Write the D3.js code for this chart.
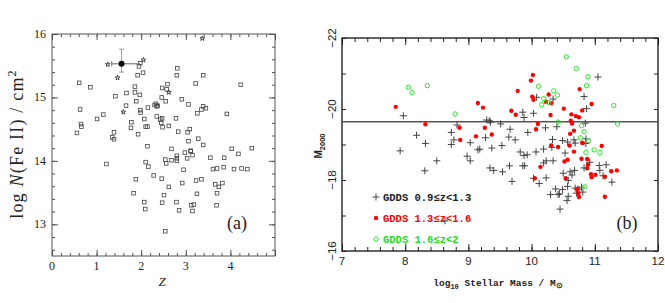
<!DOCTYPE html>
<html>
<head>
<meta charset="utf-8">
<script src="https://cdn.jsdelivr.net/npm/d3@7"></script>
<style>
  body { margin: 0; background: #fff; }
  svg { display: block; }
</style>
</head>
<body>
<svg id="fig" width="665" height="303"></svg>
<script>
// ---- panel (a): z vs log N(Fe II) ----
var squaresA = [
  [0.61,15.23],[0.86,15.16],[0.63,14.81],[0.65,14.58],[0.66,14.54],[0.56,14.44],[1.01,14.66],[1.15,14.73],
  [1.42,15.02],[1.39,14.45],[1.35,14.37],[1.39,14.34],[1.67,15.07],[1.66,14.87],[1.78,14.61],[1.77,14.52],
  [1.86,15.17],[1.86,15.08],[1.97,15.04],[1.89,14.94],[1.95,15.49],[1.92,15.35],[2.04,15.39],[1.98,15.54],
  [1.98,14.80],[1.99,14.76],[2.07,14.66],[2.10,14.54],[2.14,14.54],[1.93,14.42],[2.15,14.84],[2.14,14.23],
  [2.30,14.88],[2.33,14.90],[2.35,14.86],[2.37,14.87],[2.35,14.70],[2.43,14.65],[2.47,14.67],[2.45,14.60],
  [2.48,14.53],[2.47,15.15],[2.57,15.13],[2.59,15.21],[2.46,15.00],[2.55,14.94],[2.62,14.55],[2.78,14.67],
  [2.80,15.35],[2.81,15.46],[2.83,14.46],[2.91,14.97],[3.06,14.89],[3.09,14.50],[3.04,14.45],[3.06,14.31],
  [3.22,15.22],[3.39,15.35],[3.26,14.75],[3.35,14.81],[3.39,14.86],[3.45,14.83],[3.28,14.35],[3.39,14.25],
  [3.92,14.74],[4.23,15.20],[2.68,14.19],[3.11,14.16],[4.03,14.19],[4.48,14.20],[4.18,14.11],
  [1.22,13.95],[2.10,13.98],[2.16,13.91],[2.54,14.02],[2.56,13.96],[2.68,14.01],[2.80,14.08],[2.80,14.04],
  [2.80,14.00],[2.98,14.13],[3.03,14.04],[3.11,14.15],[3.15,14.09],[2.95,13.86],[3.55,14.05],[3.61,13.87],
  [3.70,13.88],[3.85,13.90],[3.86,14.05],[4.08,13.87],[4.25,13.88],[4.38,13.87],[1.88,13.71],[2.28,13.77],
  [2.46,13.72],[1.83,13.49],[2.62,13.59],[2.92,13.65],[3.23,13.69],[3.35,13.71],[3.25,13.48],[3.66,13.63],
  [3.74,13.59],[3.82,13.65],[3.70,13.49],[2.51,13.46],[2.07,13.35],[2.09,13.24],[2.47,13.34],[2.79,13.35],
  [2.85,13.22],[3.12,13.30],[3.18,13.31],[3.15,13.21],[3.69,13.30],[2.54,12.89]
];
var starsA = [[3.37,15.93],[1.25,15.52],[2.05,15.59],[1.47,15.31],[1.60,14.77],[2.62,15.08]];
var meanA = { z: 1.56, n: 15.53, zLo: 1.34, zHi: 1.97, nLo: 15.40, nHi: 15.76 };
var xTicksA = [0, 1, 2, 3, 4, 5];
var yTicksA = [13, 14, 15, 16];

// ---- panel (b): stellar mass vs M2000 ----
var blackB = [
  [7.97,-19.81],[8.18,-19.26],[8.32,-19.03],[8.82,-19.55],[8.73,-19.34],[8.77,-19.13],[8.73,-19.00],[9.03,-19.05],
  [9.29,-19.69],[9.33,-19.67],[9.35,-19.63],[9.51,-19.58],[9.27,-19.19],[9.66,-19.43],[9.64,-19.21],[9.74,-19.13],
  [9.94,-19.34],[9.86,-19.91],[9.88,-19.76],[10.03,-19.88],[10.08,-20.33],[10.34,-20.28],[10.83,-20.35],[11.05,-20.90],
  [10.87,-20.01],[10.85,-19.60],[10.22,-19.47],[10.40,-19.50],[10.33,-19.14],[10.49,-19.11],[10.57,-19.07],[10.67,-19.13],
  [10.69,-19.04],[10.86,-19.16],[10.86,-19.03],[7.92,-18.82],[8.31,-18.26],[8.50,-18.54],[8.98,-18.67],[9.03,-18.54],
  [9.15,-18.85],[9.18,-18.87],[9.37,-18.90],[9.34,-18.34],[9.40,-18.27],[9.54,-18.23],[8.63,-16.85],[9.53,-18.97],
  [9.82,-18.79],[9.88,-18.69],[9.93,-18.71],[9.65,-18.40],[9.69,-17.96],[9.86,-18.40],[9.89,-18.40],[10.07,-18.79],
  [10.19,-18.87],[10.32,-18.92],[10.53,-18.76],[10.19,-18.48],[10.23,-18.54],[10.34,-18.54],[10.03,-18.05],[10.12,-17.90],
  [10.23,-18.06],[10.50,-18.19],[10.61,-18.23],[10.64,-18.14],[10.68,-18.27],[10.58,-17.99],[10.57,-17.82],[10.92,-18.50],
  [10.83,-18.34],[10.69,-17.77],[10.73,-17.74],[10.79,-17.80],[10.81,-17.66],[10.71,-17.63],[10.30,-17.59],[10.38,-17.75],
  [10.42,-17.59],[10.44,-17.61],[10.49,-17.73],[10.58,-17.54],[10.56,-17.42],[10.45,-17.18],[11.07,-18.41],[11.08,-18.27],
  [11.13,-18.12],[11.18,-18.43],[11.27,-17.94]
];
var redB = [
  [7.85,-20.06],[9.15,-20.17],[9.23,-20.04],[8.32,-19.57],[8.86,-19.47],[9.26,-19.47],[9.37,-19.28],[9.12,-19.23],
  [8.87,-19.13],[10.02,-20.96],[9.99,-20.80],[9.78,-20.51],[10.01,-20.35],[10.03,-20.26],[10.27,-20.41],[10.23,-20.20],
  [10.31,-20.16],[10.76,-20.56],[10.95,-20.14],[10.51,-20.01],[10.80,-19.96],[9.68,-19.95],[9.75,-19.84],[10.30,-19.83],
  [10.63,-19.85],[10.70,-19.80],[10.75,-19.77],[10.62,-19.67],[10.64,-19.59],[10.10,-19.58],[10.07,-19.43],[10.67,-19.39],
  [10.61,-19.30],[10.80,-19.05],[10.31,-18.97],[10.42,-18.93],[10.60,-18.97],[10.81,-19.04],[11.11,-18.96],[10.67,-18.80],
  [10.52,-18.52],[10.57,-18.57],[10.79,-18.60],[10.88,-18.59],[10.89,-18.43],[10.88,-18.33],[10.94,-18.16],[10.95,-18.08],
  [11.01,-18.15],[11.16,-18.09],[11.26,-18.25],[11.35,-18.27],[10.14,-18.37],[10.05,-18.05],[10.54,-18.05],[10.73,-17.75],
  [10.74,-17.63],[10.75,-17.52],[11.16,-17.53]
];
var greenB = [
  [8.05,-20.61],[8.11,-20.46],[8.35,-20.66],[8.79,-19.86],[10.55,-21.47],[10.71,-21.14],[10.89,-20.91],[10.87,-20.66],
  [10.11,-20.64],[10.35,-20.51],[10.41,-20.39],[10.19,-20.29],[10.27,-20.18],[10.16,-20.12],[11.30,-20.10],[11.36,-19.58],
  [10.42,-19.63],[10.79,-19.53],[10.83,-19.36],[10.77,-19.19],[10.90,-19.11],[10.86,-18.78],[10.99,-18.85],[11.08,-18.77],
  [10.84,-17.81]
];
var cutB = -19.64;
var xTicksB = [7, 8, 9, 10, 11, 12];
var yTicksB = [-22, -20, -18, -16];
var legendB = ["GDDS 0.9\u2264z<1.3", "GDDS 1.3\u2264z<1.6", "GDDS 1.6\u2264z<2"];

var svg = d3.select("#fig");

// inward ticks on all four sides
function frameTicks(g, x, y, opt) {
  var w = x.range()[1] - x.range()[0], h = y.range()[0] - y.range()[1];
  g.append("g").attr("transform", "translate(0," + y.range()[0] + ")")
    .call(d3.axisBottom(x).tickValues(opt.xMinor).tickSize(-opt.minor).tickFormat(""));
  g.append("g").attr("transform", "translate(0," + y.range()[0] + ")")
    .call(d3.axisBottom(x).tickValues(opt.xMajor).tickSize(-opt.major).tickFormat(""));
  g.append("g").attr("transform", "translate(0," + y.range()[1] + ")")
    .call(d3.axisTop(x).tickValues(opt.xMinor).tickSize(-opt.minor).tickFormat(""));
  g.append("g").attr("transform", "translate(0," + y.range()[1] + ")")
    .call(d3.axisTop(x).tickValues(opt.xMajor).tickSize(-opt.major).tickFormat(""));
  g.append("g").attr("transform", "translate(" + x.range()[0] + ",0)")
    .call(d3.axisLeft(y).tickValues(opt.yMinor).tickSize(-opt.minor).tickFormat(""));
  g.append("g").attr("transform", "translate(" + x.range()[0] + ",0)")
    .call(d3.axisLeft(y).tickValues(opt.yMajor).tickSize(-opt.major).tickFormat(""));
  g.append("g").attr("transform", "translate(" + x.range()[1] + ",0)")
    .call(d3.axisRight(y).tickValues(opt.yMinor).tickSize(-opt.minor).tickFormat(""));
  g.append("g").attr("transform", "translate(" + x.range()[1] + ",0)")
    .call(d3.axisRight(y).tickValues(opt.yMajor).tickSize(-opt.major).tickFormat(""));
  g.selectAll(".domain").remove();
  g.selectAll(".tick line").attr("stroke", opt.color).attr("stroke-width", 1);
  g.append("rect").attr("x", x.range()[0]).attr("y", y.range()[1])
    .attr("width", w).attr("height", h)
    .attr("fill", "none").attr("stroke", opt.color).attr("stroke-width", opt.frameW);
}

function steps(a, b, s) {
  return d3.range(Math.round((b - a) / s) + 1).map(function(i) { return +(a + i * s).toFixed(4); });
}

// ===== panel (a) =====
var xA = d3.scaleLinear().domain([0, 5]).range([52, 275]);
var yA = d3.scaleLinear().domain([12.5, 16]).range([256, 34]);
var gA = svg.append("g");

frameTicks(gA, xA, yA, {
  xMinor: steps(0, 5, 0.2), xMajor: xTicksA,
  yMinor: steps(12.6, 16, 0.2), yMajor: yTicksA,
  minor: 3, major: 6, color: "#555", frameW: 1
});

gA.selectAll(".xlab").data(xTicksA.slice(0, 5)).enter().append("text")
  .attr("x", function(d) { return xA(d); }).attr("y", 270)
  .attr("text-anchor", "middle").attr("font-family", "Liberation Serif").attr("font-size", 12)
  .attr("fill", "#222").text(function(d) { return d; });
gA.selectAll(".ylab").data(yTicksA).enter().append("text")
  .attr("x", 46).attr("y", function(d) { return yA(d) + 4; })
  .attr("text-anchor", "end").attr("font-family", "Liberation Serif").attr("font-size", 12)
  .attr("fill", "#222").text(function(d) { return d; });

gA.append("text").attr("x", 162).attr("y", 286).attr("text-anchor", "middle")
  .attr("font-family", "Liberation Serif").attr("font-style", "italic").attr("font-size", 13)
  .attr("fill", "#222").text("Z");

var ylabA = gA.append("text").attr("transform", "translate(23,144) rotate(-90)")
  .attr("text-anchor", "middle").attr("font-family", "Liberation Serif").attr("font-size", 18)
  .attr("letter-spacing", 1.2).attr("fill", "#222");
ylabA.append("tspan").text("log ");
ylabA.append("tspan").attr("font-style", "italic").text("N");
ylabA.append("tspan").text("(Fe II)  /  cm");
ylabA.append("tspan").attr("dy", -7).attr("font-size", 12).text("2");

gA.append("text").attr("x", 237).attr("y", 229).attr("text-anchor", "middle")
  .attr("font-family", "Liberation Serif").attr("font-size", 18).attr("fill", "#222").text("(a)");

gA.selectAll(".sq").data(squaresA).enter().append("rect")
  .attr("x", function(d) { return xA(d[0]) - 1.8; }).attr("y", function(d) { return yA(d[1]) - 1.8; })
  .attr("width", 3.6).attr("height", 3.6)
  .attr("fill", "none").attr("stroke", "#444").attr("stroke-width", 0.8);

gA.selectAll(".st").data(starsA).enter().append("path")
  .attr("d", d3.symbol(d3.symbolStar, 7))
  .attr("transform", function(d) { return "translate(" + xA(d[0]) + "," + yA(d[1]) + ")"; })
  .attr("fill", "none").attr("stroke", "#333").attr("stroke-width", 0.9);

// mean point with error bars
gA.append("line").attr("x1", xA(meanA.zLo)).attr("x2", xA(meanA.zHi))
  .attr("y1", yA(meanA.n)).attr("y2", yA(meanA.n)).attr("stroke", "#666").attr("stroke-width", 1);
gA.append("line").attr("x1", xA(meanA.z)).attr("x2", xA(meanA.z))
  .attr("y1", yA(meanA.nLo)).attr("y2", yA(meanA.nHi)).attr("stroke", "#999").attr("stroke-width", 1);
[meanA.nLo, meanA.nHi].forEach(function(v) {
  gA.append("line").attr("x1", xA(meanA.z) - 2.5).attr("x2", xA(meanA.z) + 2.5)
    .attr("y1", yA(v)).attr("y2", yA(v)).attr("stroke", "#999").attr("stroke-width", 1);
});
gA.append("line").attr("x1", xA(meanA.zLo)).attr("x2", xA(meanA.zLo))
  .attr("y1", yA(meanA.n) - 2.5).attr("y2", yA(meanA.n) + 2.5).attr("stroke", "#666");
gA.append("circle").attr("cx", xA(meanA.z)).attr("cy", yA(meanA.n)).attr("r", 3).attr("fill", "#000");

// ===== panel (b) =====
var xB = d3.scaleLinear().domain([7, 12]).range([342, 658]);
var yB = d3.scaleLinear().domain([-16, -22]).range([251, 38]);
var gB = svg.append("g");

frameTicks(gB, xB, yB, {
  xMinor: steps(7, 12, 0.2), xMajor: xTicksB,
  yMinor: steps(-22, -16, 1), yMajor: [],
  minor: 4, major: 7, color: "#222", frameW: 1.4
});

gB.selectAll(".xlab").data(xTicksB).enter().append("text")
  .attr("x", function(d) { return xB(d); }).attr("y", 265)
  .attr("text-anchor", "middle").attr("font-family", "Liberation Sans").attr("font-size", 11.5)
  .attr("fill", "#222").text(function(d) { return d; });
gB.selectAll(".ylab").data(yTicksB).enter().append("text")
  .attr("transform", function(d) { return "translate(336," + yB(d) + ") rotate(-90)"; })
  .attr("text-anchor", "middle").attr("font-family", "Liberation Sans").attr("font-size", 11.5)
  .attr("fill", "#222").text(function(d) { return "\u2212" + Math.abs(d); });

var xlabB = gB.append("text").attr("x", 498).attr("y", 286).attr("text-anchor", "middle")
  .attr("font-family", "Liberation Mono").attr("font-weight", "bold").attr("font-size", 9.5).attr("fill", "#222");
xlabB.append("tspan").text("log");
xlabB.append("tspan").attr("dy", 3).attr("font-size", 7).text("10");
xlabB.append("tspan").attr("dy", -3).text(" Stellar Mass / M");
xlabB.append("tspan").attr("dy", 2).attr("font-size", 8).text("\u2299");

var ylabB = gB.append("text").attr("transform", "translate(322,146) rotate(-90)")
  .attr("text-anchor", "middle").attr("font-family", "Liberation Sans").attr("font-weight", "bold")
  .attr("font-size", 10).attr("fill", "#222");
ylabB.append("tspan").text("M");
ylabB.append("tspan").attr("dy", 3).attr("font-size", 7.5).text("2000");

gB.append("text").attr("x", 627).attr("y", 229).attr("text-anchor", "middle")
  .attr("font-family", "Liberation Serif").attr("font-size", 18).attr("fill", "#222").text("(b)");

gB.append("line").attr("x1", xB.range()[0]).attr("x2", xB.range()[1])
  .attr("y1", yB(cutB)).attr("y2", yB(cutB)).attr("stroke", "#555").attr("stroke-width", 1.5);

function cross(sel, s) {
  sel.attr("d", "M" + (-s) + ",0H" + s + "M0," + (-s) + "V" + s)
    .attr("fill", "none").attr("stroke", "#444").attr("stroke-width", 1);
}

gB.selectAll(".bk").data(blackB).enter().append("path")
  .attr("transform", function(d) { return "translate(" + xB(d[0]) + "," + yB(d[1]) + ")"; })
  .call(cross, 3.5);
gB.selectAll(".rd").data(redB).enter().append("circle")
  .attr("cx", function(d) { return xB(d[0]); }).attr("cy", function(d) { return yB(d[1]); })
  .attr("r", 2.2).attr("fill", "#ff0000");
gB.selectAll(".gr").data(greenB).enter().append("circle")
  .attr("cx", function(d) { return xB(d[0]); }).attr("cy", function(d) { return yB(d[1]); })
  .attr("r", 2.2).attr("fill", "none").attr("stroke", "#22ee22").attr("stroke-width", 1);

// legend
var legY = [197, 218, 239], legC = ["#222", "#ff0000", "#22dd22"];
gB.append("path").attr("transform", "translate(376," + legY[0] + ")").call(cross, 3.5);
gB.append("circle").attr("cx", 376).attr("cy", legY[1]).attr("r", 2.2).attr("fill", "#ff0000");
gB.append("circle").attr("cx", 376).attr("cy", legY[2]).attr("r", 2.2).attr("fill", "none")
  .attr("stroke", "#22ee22").attr("stroke-width", 1);
gB.selectAll(".lg").data(legendB).enter().append("text")
  .attr("x", 383).attr("y", function(d, i) { return legY[i] + 4; })
  .attr("font-family", "Liberation Mono").attr("font-weight", "bold").attr("font-size", 10.5)
  .attr("fill", function(d, i) { return legC[i]; }).text(function(d) { return d; });
</script>
</body>
</html>
